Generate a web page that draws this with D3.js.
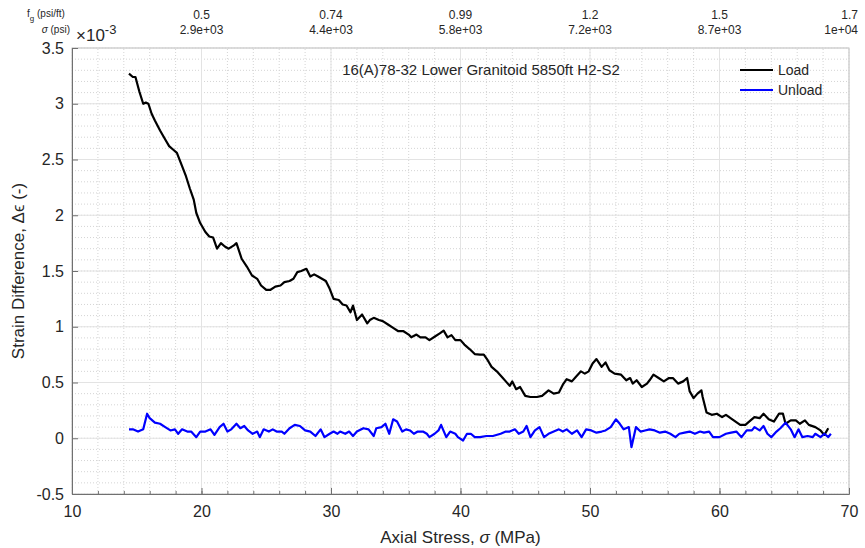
<!DOCTYPE html>
<html>
<head>
<meta charset="utf-8">
<style>
body {
  margin: 0;
  background: white;
  font-family: "Liberation Sans", Arial, sans-serif;
}
svg {
  display: block;
}
text {
  fill: #262626;
}
</style>
</head>
<body>
<script src="https://cdnjs.cloudflare.com/ajax/libs/d3/7.8.5/d3.min.js"></script>
<script>
// strain values are in units of 1e-3
var loadStress = [14.4, 14.7, 14.9, 15.2, 15.5, 15.7, 15.9, 16.15, 16.4, 16.8, 17.2, 17.5, 17.8, 18.1, 18.5, 18.8, 19.1, 19.4, 19.6, 19.9,
  20.3, 20.6, 20.9, 21.2, 21.5, 21.8, 22.1, 22.5, 22.7, 23.1, 23.5, 23.9, 24.3, 24.6, 25.0, 25.3, 25.7, 26.1, 26.4, 26.8,
  27.1, 27.4, 27.7, 28.1, 28.4, 28.7, 29.0, 29.3, 29.6, 29.9, 30.2, 30.6, 30.9, 31.2, 31.5, 31.7, 32.0, 32.4, 32.8, 33.0,
  33.3, 33.7, 34.0, 34.4, 34.8, 35.2, 35.6, 36.0, 36.2, 36.6, 36.9, 37.3, 37.6, 38.0, 38.4, 38.7, 39.0, 39.3, 39.6, 40.0,
  40.3, 40.7, 41.1, 41.5, 41.8, 42.1, 42.4, 42.8, 43.2, 43.5, 43.8, 44.0, 44.3, 44.6, 45.0, 45.4, 45.9, 46.3, 46.8, 47.2,
  47.6, 47.9, 48.2, 48.6, 48.9, 49.3, 49.6, 49.9, 50.2, 50.5, 50.9, 51.2, 51.5, 51.9, 52.4, 52.8, 53.1, 53.3, 53.6, 54.0,
  54.4, 54.6, 54.9, 55.3, 55.7, 56.1, 56.4, 56.8, 57.2, 57.5, 57.7, 58.0, 58.3, 58.6, 58.7, 59.0, 59.4, 59.8, 60.2, 60.5,
  61.1, 61.6, 62.0, 62.4, 62.7, 63.1, 63.4, 63.8, 64.2, 64.6, 64.9, 65.1, 65.5, 65.9, 66.2, 66.6, 66.9, 67.4, 67.8, 68.1, 68.4]
var loadStrain = [3.27, 3.24, 3.24, 3.11, 3.00, 3.01, 3.00, 2.91, 2.85, 2.76, 2.68, 2.62, 2.59, 2.56, 2.44, 2.35, 2.24, 2.14, 2.02, 1.93,
  1.85, 1.81, 1.80, 1.70, 1.75, 1.72, 1.70, 1.73, 1.75, 1.61, 1.54, 1.46, 1.43, 1.37, 1.33, 1.33, 1.36, 1.37, 1.40, 1.41,
  1.43, 1.49, 1.50, 1.52, 1.45, 1.47, 1.45, 1.43, 1.41, 1.34, 1.25, 1.24, 1.20, 1.19, 1.13, 1.19, 1.06, 1.11, 1.03, 1.06,
  1.08, 1.06, 1.05, 1.02, 0.99, 0.96, 0.96, 0.93, 0.905, 0.93, 0.905, 0.905, 0.88, 0.91, 0.94, 0.965, 0.905, 0.925, 0.88, 0.88,
  0.84, 0.80, 0.755, 0.75, 0.75, 0.70, 0.64, 0.60, 0.55, 0.51, 0.47, 0.51, 0.44, 0.46, 0.38, 0.37, 0.37, 0.38, 0.43, 0.40,
  0.41, 0.48, 0.53, 0.51, 0.55, 0.60, 0.58, 0.60, 0.67, 0.71, 0.64, 0.68, 0.61, 0.58, 0.57, 0.52, 0.54, 0.49, 0.52, 0.46,
  0.49, 0.52, 0.57, 0.54, 0.51, 0.54, 0.54, 0.49, 0.51, 0.54, 0.42, 0.36, 0.40, 0.43, 0.37, 0.23, 0.21, 0.22, 0.19, 0.21,
  0.16, 0.12, 0.12, 0.16, 0.19, 0.18, 0.22, 0.17, 0.15, 0.22, 0.22, 0.13, 0.16, 0.16, 0.13, 0.16, 0.12, 0.10, 0.07, 0.03, 0.09]

var unloadStress = [14.4, 14.7, 15.1, 15.5, 15.8, 16.0, 16.4, 16.8, 17.2, 17.6, 17.95, 18.2, 18.5, 18.9, 19.2, 19.6, 19.9, 20.3, 20.7, 21.0,
  21.4, 21.7, 22.0, 22.3, 22.7, 23.0, 23.3, 23.6, 23.95, 24.3, 24.5, 24.8, 25.2, 25.5, 25.8, 26.2, 26.4, 26.8, 27.2, 27.6,
  28.0, 28.4, 28.8, 29.2, 29.5, 29.9, 30.2, 30.5, 30.7, 31.1, 31.4, 31.7, 32.0, 32.5, 32.9, 33.3, 33.5, 33.9, 34.2, 34.5,
  34.8, 35.1, 35.5, 35.8, 36.1, 36.4, 36.7, 37.1, 37.4, 37.6, 38.0, 38.3, 38.5, 38.9, 39.2, 39.6, 39.8, 40.2, 40.5, 40.8,
  41.1, 41.5, 42.0, 42.5, 43.1, 43.5, 43.8, 44.2, 44.5, 44.85, 45.1, 45.4, 45.75, 46.1, 46.45, 46.8, 47.2, 47.6, 47.9, 48.2,
  48.6, 49.0, 49.35, 49.7, 50.1, 50.5, 50.9, 51.2, 51.6, 52.0, 52.3, 52.6, 53.0, 53.2, 53.55, 53.9, 54.25, 54.6, 55.0, 55.4,
  55.8, 56.2, 56.6, 56.9, 57.3, 57.7, 58.1, 58.5, 58.8, 59.2, 59.5, 60.0, 60.5, 60.9, 61.3, 61.7, 62.1, 62.5, 62.7, 63.1,
  63.4, 63.7, 64.0, 64.4, 64.7, 65.1, 65.5, 65.8, 66.1, 66.4, 66.8, 67.2, 67.4, 67.8, 68.1, 68.4, 68.6]
var unloadStrain = [0.08, 0.08, 0.06, 0.08, 0.22, 0.18, 0.14, 0.13, 0.10, 0.07, 0.08, 0.04, 0.08, 0.06, 0.06, 0.01, 0.06, 0.06, 0.08, 0.03,
  0.10, 0.13, 0.06, 0.08, 0.13, 0.09, 0.11, 0.07, 0.04, 0.06, 0.01, 0.08, 0.06, 0.08, 0.06, 0.06, 0.04, 0.09, 0.12, 0.11,
  0.07, 0.06, 0.02, 0.08, 0.01, 0.04, 0.06, 0.04, 0.06, 0.04, 0.06, 0.02, 0.06, 0.09, 0.08, 0.02, 0.09, 0.10, 0.13, 0.04,
  0.17, 0.15, 0.06, 0.08, 0.07, 0.04, 0.06, 0.06, 0.04, 0.01, 0.04, 0.07, 0.12, 0.01, 0.06, 0.04, 0.01, -0.02, 0.04, 0.04,
  0.01, 0.01, 0.02, 0.02, 0.04, 0.06, 0.06, 0.08, 0.04, 0.06, 0.11, 0.01, 0.07, 0.10, 0.01, 0.04, 0.06, 0.08, 0.06, 0.08,
  0.04, 0.07, 0.01, 0.08, 0.07, 0.05, 0.06, 0.07, 0.10, 0.17, 0.13, 0.08, 0.10, -0.08, 0.10, 0.06, 0.07, 0.08, 0.07, 0.05,
  0.06, 0.04, 0.01, 0.04, 0.05, 0.06, 0.04, 0.06, 0.05, 0.06, 0.01, 0.01, 0.04, 0.05, 0.06, 0.01, 0.07, 0.07, 0.10, 0.07,
  0.11, 0.04, 0.01, 0.06, 0.09, 0.14, 0.08, 0.01, 0.08, 0.01, 0.02, 0.01, 0.04, 0.01, 0.04, 0.01, 0.04]

var xTicks = [10, 20, 30, 40, 50, 60, 70]
var yTicks = [-0.5, 0, 0.5, 1, 1.5, 2, 2.5, 3, 3.5]
var topTicks = [20, 30, 40, 50, 60, 70]
var topGradient = ["0.5", "0.74", "0.99", "1.2", "1.5", "1.7"]
var topPsi = ["2.9e+03", "4.4e+03", "5.8e+03", "7.2e+03", "8.7e+03", "1e+04"]

var width = 865,
    height = 548,
    margin = {top: 48, right: 16, bottom: 54, left: 72};

var svg = d3.select("body")
  .append("svg")
  .attr("width", width)
  .attr("height", height)

var x = d3.scaleLinear().domain([10, 70]).range([margin.left, width - margin.right])
var y = d3.scaleLinear().domain([-0.5, 3.5]).range([height - margin.bottom, margin.top])

var minorX = d3.range(10, 70.01, 2)
var minorY = d3.range(-0.5, 3.501, 0.1)

// minor grid
svg.append("g").selectAll("line")
  .data(minorX)
  .enter().append("line")
  .attr("x1", function(d) { return x(d) })
  .attr("x2", function(d) { return x(d) })
  .attr("y1", y(-0.5))
  .attr("y2", y(3.5))
  .attr("stroke", "#d4d4d4")
  .attr("stroke-dasharray", "1,2")

svg.append("g").selectAll("line")
  .data(minorY)
  .enter().append("line")
  .attr("x1", x(10))
  .attr("x2", x(70))
  .attr("y1", function(d) { return y(d) })
  .attr("y2", function(d) { return y(d) })
  .attr("stroke", "#d4d4d4")
  .attr("stroke-dasharray", "1,2")

// major grid
svg.append("g").selectAll("line")
  .data(xTicks)
  .enter().append("line")
  .attr("x1", function(d) { return x(d) })
  .attr("x2", function(d) { return x(d) })
  .attr("y1", y(-0.5))
  .attr("y2", y(3.5))
  .attr("stroke", "#e3e3e3")

svg.append("g").selectAll("line")
  .data(yTicks)
  .enter().append("line")
  .attr("x1", x(10))
  .attr("x2", x(70))
  .attr("y1", function(d) { return y(d) })
  .attr("y2", function(d) { return y(d) })
  .attr("stroke", "#e3e3e3")

// box
svg.append("rect")
  .attr("x", x(10))
  .attr("y", y(3.5))
  .attr("width", x(70) - x(10))
  .attr("height", y(-0.5) - y(3.5))
  .attr("fill", "none")
  .attr("stroke", "#c8c8c8")

// axes, ticks point inward like matlab
var xAxis = svg.append("g")
  .attr("transform", "translate(0," + y(-0.5) + ")")
  .call(d3.axisBottom(x).tickValues(xTicks).tickSize(-6).tickPadding(12).tickFormat(d3.format("d")))
xAxis.selectAll("text").style("font-size", "16px").attr("fill", "#262626")

svg.append("g")
  .attr("transform", "translate(0," + y(-0.5) + ")")
  .call(d3.axisBottom(x).tickValues(minorX).tickSize(-3).tickFormat(""))
  .call(function(g) { g.select(".domain").remove() })

var yAxis = svg.append("g")
  .attr("transform", "translate(" + x(10) + ",0)")
  .call(d3.axisLeft(y).tickValues(yTicks).tickSize(-6).tickPadding(8).tickFormat(function(d) { return String(d) }))
yAxis.selectAll("text").style("font-size", "16px").attr("fill", "#262626")

svg.selectAll(".domain").attr("stroke", "#707070")
svg.selectAll(".tick line").attr("stroke", "#707070")

// exponent
var expo = svg.append("text")
  .attr("x", 76)
  .attr("y", 41)
  .style("font-size", "17px")
expo.append("tspan").text("\u00d710")
expo.append("tspan").attr("dy", -7).style("font-size", "13px").text("-3")

// top labels
var topG = svg.append("g")
topG.selectAll(".g1")
  .data(topTicks)
  .enter().append("text")
  .attr("x", function(d, i) { return i == topTicks.length - 1 ? x(d) + 9 : x(d) })
  .attr("y", 19)
  .attr("text-anchor", function(d, i) { return i == topTicks.length - 1 ? "end" : "middle" })
  .style("font-size", "12px")
  .text(function(d, i) { return topGradient[i] })

topG.selectAll(".g2")
  .data(topTicks)
  .enter().append("text")
  .attr("x", function(d, i) { return i == topTicks.length - 1 ? x(d) + 9 : x(d) })
  .attr("y", 34)
  .attr("text-anchor", function(d, i) { return i == topTicks.length - 1 ? "end" : "middle" })
  .style("font-size", "12px")
  .text(function(d, i) { return topPsi[i] })

var fg = svg.append("text").attr("x", 27).attr("y", 17).style("font-size", "10px")
fg.append("tspan").text("f")
fg.append("tspan").attr("dy", 4).style("font-size", "8px").text("g")
fg.append("tspan").attr("dy", -4).text(" (psi/ft)")

svg.append("text")
  .attr("x", 70)
  .attr("y", 33)
  .attr("text-anchor", "end")
  .style("font-size", "10px")
  .html("<tspan font-style='italic'>\u03c3</tspan> (psi)")

// lines
var line = d3.line()
  .x(function(d) { return x(d[0]) })
  .y(function(d) { return y(d[1]) })

svg.append("path")
  .datum(d3.zip(loadStress, loadStrain))
  .attr("d", line)
  .attr("fill", "none")
  .attr("stroke", "black")
  .attr("stroke-width", 2.2)
  .attr("stroke-linejoin", "round")

svg.append("path")
  .datum(d3.zip(unloadStress, unloadStrain))
  .attr("d", line)
  .attr("fill", "none")
  .attr("stroke", "#0000ff")
  .attr("stroke-width", 2.2)
  .attr("stroke-linejoin", "round")

// title
svg.append("text")
  .attr("x", 481)
  .attr("y", 75)
  .attr("text-anchor", "middle")
  .style("font-size", "15px")
  .text("16(A)78-32 Lower Granitoid 5850ft H2-S2")

// legend
var legend = [["Load", "black"], ["Unload", "#0000ff"]]
var lg = svg.selectAll(".legend")
  .data(legend)
  .enter().append("g")
  .attr("transform", function(d, i) { return "translate(740," + (70 + i * 20) + ")" })

lg.append("line")
  .attr("x1", 0)
  .attr("x2", 33)
  .attr("stroke", function(d) { return d[1] })
  .attr("stroke-width", 2.2)

lg.append("text")
  .attr("x", 38)
  .attr("y", 5)
  .style("font-size", "14px")
  .text(function(d) { return d[0] })

// axis labels
svg.append("text")
  .attr("x", x(40))
  .attr("y", 543)
  .attr("text-anchor", "middle")
  .style("font-size", "17px")
  .html("Axial Stress, <tspan font-style='italic'>\u03c3</tspan> (MPa)")

svg.append("text")
  .attr("transform", "translate(24," + y(1.5) + ") rotate(-90)")
  .attr("text-anchor", "middle")
  .style("font-size", "17px")
  .text("Strain Difference, \u0394\u03f5 (-)")
</script>
</body>
</html>
